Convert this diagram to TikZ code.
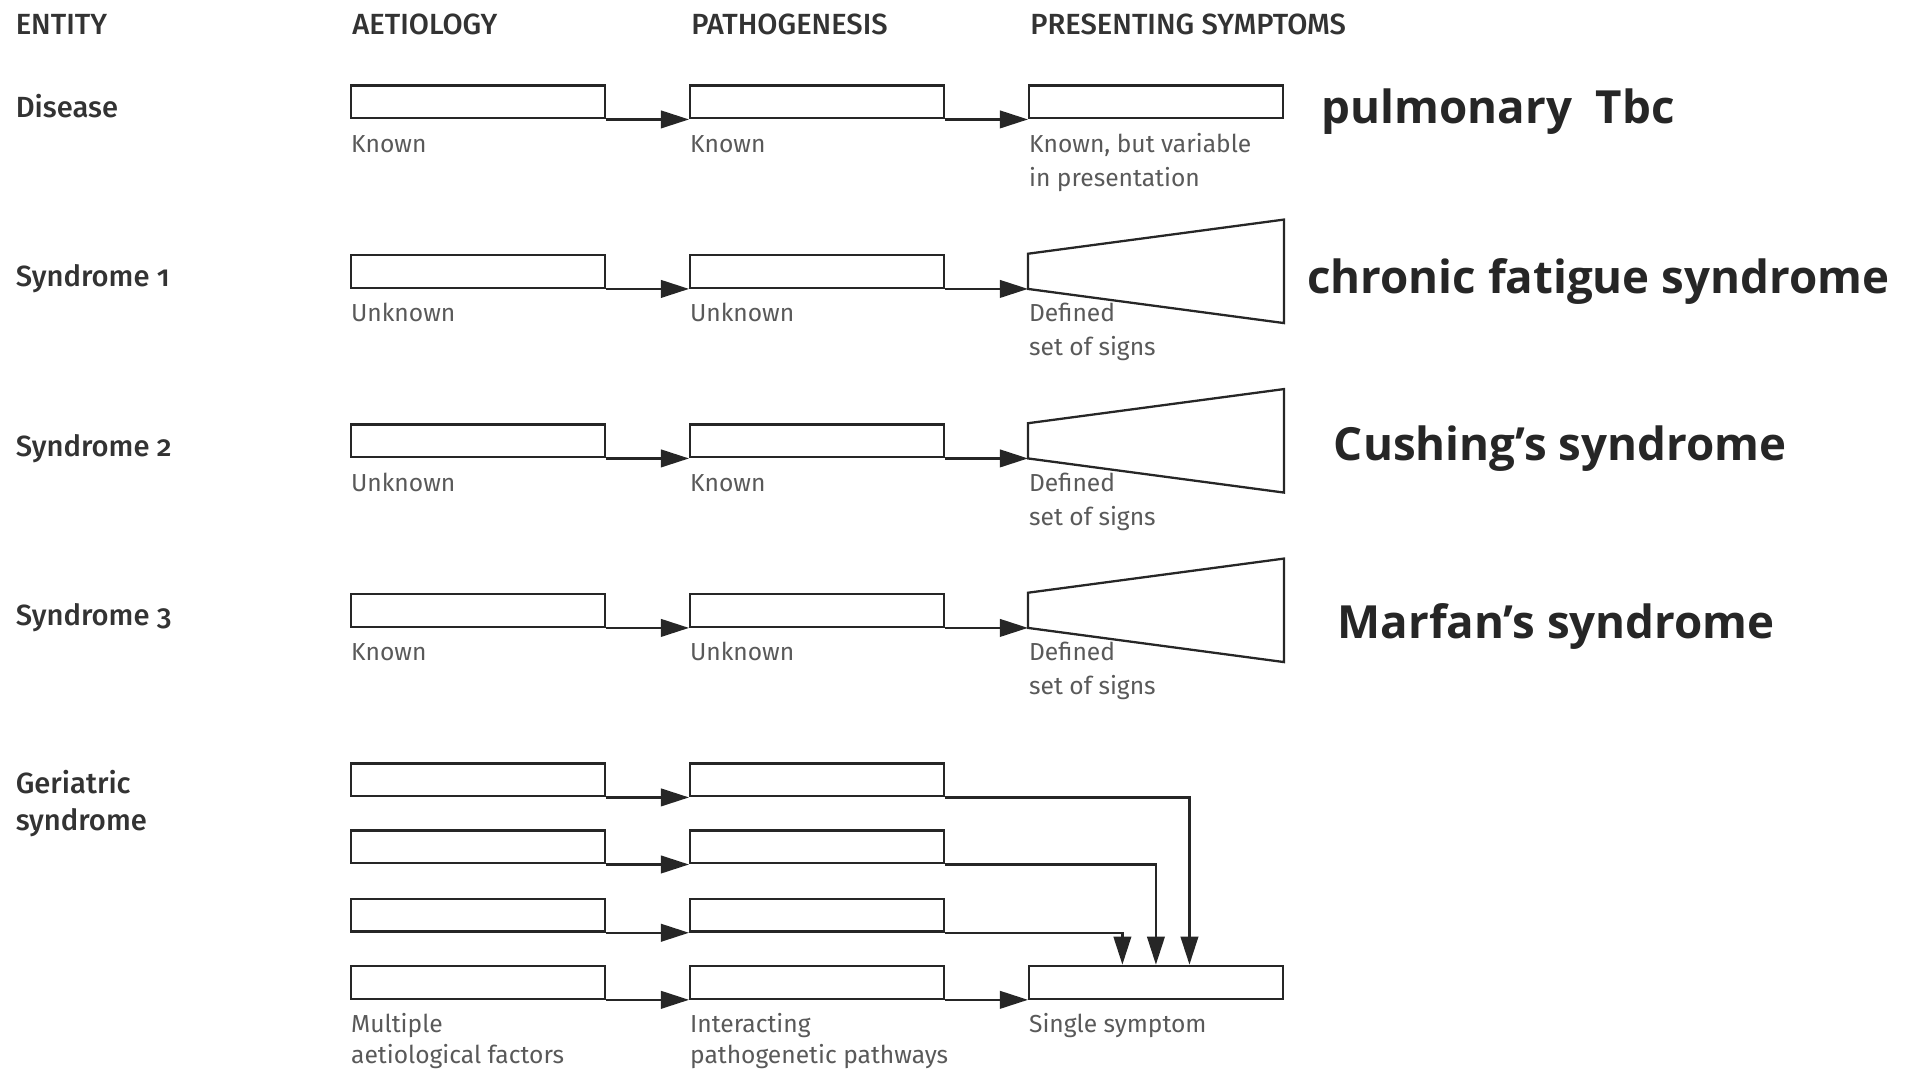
\documentclass[tikz,border=0pt]{standalone}
\usepackage{fontspec}
\setmainfont{Fira Sans}[Numbers=OldStyle]
\newfontfamily\headfont{Fira Sans Medium}[Numbers=OldStyle]
\newfontfamily\notefont{Open Sans}
\usetikzlibrary{%
  positioning,% wg. " of "
  calc,%
  arrows.meta%
}

\tikzset{
  box/.style={draw, rectangle, minimum width=2.536cm, minimum height=0.329cm, inner sep=0pt},
  slot/.style={rectangle, minimum width=2.536cm, minimum height=0.329cm, inner sep=0pt},
  head/.style={anchor=base west, inner sep=0pt, text=black!80, font=\headfont\fontsize{8.3}{10}\selectfont},
  entity/.style={anchor=base west, inner sep=0pt, align=left, text=black!80, font=\headfont\fontsize{8.3}{10.4}\selectfont},
  remark/.style={anchor=base west, inner sep=0pt, align=left, text=black!65, font=\fontsize{7}{9.7}\selectfont},
  example/.style={anchor=base west, inner sep=0pt, font=\notefont\bfseries\fontsize{13}{15}\selectfont},
  flow/.style={-{Triangle[length=8pt,width=5pt]}}
}

\begin{document}
\begin{tikzpicture}[x=0.012194cm, y=-0.012194cm, line width=0.65pt, color=black!85, node distance=0.83cm]
    \useasboundingbox (0,0) rectangle (1568,877);

    %column heads
    \node[head] (h-entity) at (12,28) {ENTITY};
    \node[head] (h-aet) at (288,28) {AETIOLOGY};
    \node[head] (h-path) at (566,28) {PATHOGENESIS};
    \node[head] (h-symp) at (844,28) {PRESENTING SYMPTOMS};

    %disease
    \node[entity] (e-dis) at (12,96) {Disease};
    \node[box] (dis-a) at (392,83.5) {};
    \node[box, right=of dis-a] (dis-p) {};
    \node[box, right=of dis-p] (dis-s) {};
    \node[remark] (r-dis-a) at ($(dis-a.south west)+(0,27)$) {Known};
    \node[remark] (r-dis-p) at ($(dis-p.south west)+(0,27)$) {Known};
    \node[remark] (r-dis-s) at ($(dis-s.south west)+(0,55)$) {Known, but variable\\in presentation};
    \node[example] (x-dis) at (1083,101) {pulmonary\ \ Tbc};

    %syndrome 1
    \node[entity] (e-s1) at (12,235) {Syndrome 1};
    \node[box] (s1-a) at (392,222.5) {};
    \node[box, right=of s1-a] (s1-p) {};
    \node[slot, right=of s1-p] (s1-s) {};
    \node[remark] (r-s1-a) at ($(s1-a.south west)+(0,27)$) {Unknown};
    \node[remark] (r-s1-p) at ($(s1-p.south west)+(0,27)$) {Unknown};
    \node[remark] (r-s1-s) at ($(s1-s.south west)+(0,55)$) {Defined\\set of signs};
    \node[example] (x-s1) at (1071,241) {chronic fatigue syndrome};

    %syndrome 2
    \node[entity] (e-s2) at (12,374) {Syndrome 2};
    \node[box] (s2-a) at (392,361.5) {};
    \node[box, right=of s2-a] (s2-p) {};
    \node[slot, right=of s2-p] (s2-s) {};
    \node[remark] (r-s2-a) at ($(s2-a.south west)+(0,27)$) {Unknown};
    \node[remark] (r-s2-p) at ($(s2-p.south west)+(0,27)$) {Known};
    \node[remark] (r-s2-s) at ($(s2-s.south west)+(0,55)$) {Defined\\set of signs};
    \node[example] (x-s2) at (1093,378) {Cushing’s syndrome};

    %syndrome 3
    \node[entity] (e-s3) at (12,513) {Syndrome 3};
    \node[box] (s3-a) at (392,500.5) {};
    \node[box, right=of s3-a] (s3-p) {};
    \node[slot, right=of s3-p] (s3-s) {};
    \node[remark] (r-s3-a) at ($(s3-a.south west)+(0,27)$) {Known};
    \node[remark] (r-s3-p) at ($(s3-p.south west)+(0,27)$) {Unknown};
    \node[remark] (r-s3-s) at ($(s3-s.south west)+(0,55)$) {Defined\\set of signs};
    \node[example] (x-s3) at (1096,524) {Marfan’s syndrome};

    %widening symptom sets
    \draw (s1-s.south west) -- (s1-s.north west) -- ($(s1-s.north east)+(0,-28)$) -- ($(s1-s.south east)+(0,28)$) -- cycle;
    \draw (s2-s.south west) -- (s2-s.north west) -- ($(s2-s.north east)+(0,-28)$) -- ($(s2-s.south east)+(0,28)$) -- cycle;
    \draw (s3-s.south west) -- (s3-s.north west) -- ($(s3-s.north east)+(0,-28)$) -- ($(s3-s.south east)+(0,28)$) -- cycle;

    %geriatric syndrome
    \node[entity] (e-ger) at (12,681) {Geriatric\\syndrome};
    \node[box] (g1-a) at (392,639.5) {};
    \node[box] (g2-a) at (392,694.5) {};
    \node[box] (g3-a) at (392,750.5) {};
    \node[box] (g4-a) at (392,805.5) {};
    \node[box, right=of g1-a] (g1-p) {};
    \node[box, right=of g2-a] (g2-p) {};
    \node[box, right=of g3-a] (g3-p) {};
    \node[box, right=of g4-a] (g4-p) {};
    \node[box, right=of g4-p] (g4-s) {};
    \node[remark, font=\fontsize{7}{8.7}\selectfont] (r-g-a) at ($(g4-a.south west)+(0,52)$) {Multiple\\aetiological factors};
    \node[remark, font=\fontsize{7}{8.7}\selectfont] (r-g-p) at ($(g4-p.south west)+(0,52)$) {Interacting\\pathogenetic pathways};
    \node[remark] (r-g-s) at ($(g4-s.south west)+(0,27)$) {Single symptom};
    \coordinate (in1) at ($(g4-s.north)+(27.5,0)$);
    \coordinate (in2) at (g4-s.north);
    \coordinate (in3) at ($(g4-s.north)+(-27.5,0)$);

    \path[flow]
     (dis-a.south east) edge (dis-p.south west)
     (dis-p.south east) edge (dis-s.south west)
     (s1-a.south east) edge (s1-p.south west)
     (s1-p.south east) edge (s1-s.south west)
     (s2-a.south east) edge (s2-p.south west)
     (s2-p.south east) edge (s2-s.south west)
     (s3-a.south east) edge (s3-p.south west)
     (s3-p.south east) edge (s3-s.south west)
     (g1-a.south east) edge (g1-p.south west)
     (g2-a.south east) edge (g2-p.south west)
     (g3-a.south east) edge (g3-p.south west)
     (g4-a.south east) edge (g4-p.south west)
     (g4-p.south east) edge (g4-s.south west);
    \draw[flow] (g1-p.south east) -| (in1);
    \draw[flow] (g2-p.south east) -| (in2);
    \draw[flow] (g3-p.south east) -| (in3);

  \end{tikzpicture}
\end{document}
